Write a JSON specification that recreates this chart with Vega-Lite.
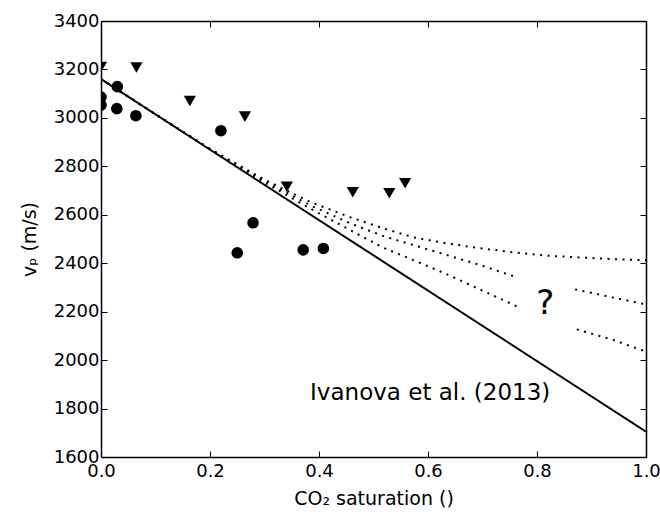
{
  "$schema": "https://vega.github.io/schema/vega-lite/v6.json",
  "width": 545,
  "height": 436,
  "autosize": "none",
  "padding": {"left": 101, "top": 21, "right": 14, "bottom": 58},
  "background": "white",
  "config": {
    "font": "DejaVu Sans",
    "view": {"stroke": null},
    "axis": {
      "domainColor": "black",
      "domainWidth": 1.5,
      "tickColor": "black",
      "tickWidth": 1,
      "tickSize": -6,
      "labelFlush": false,
      "labelOverlap": false,
      "labelColor": "black",
      "labelFont": "DejaVu Sans",
      "labelFontSize": 18,
      "titleFont": "DejaVu Sans",
      "titleFontSize": 19,
      "titleFontWeight": "normal",
      "titleColor": "black",
      "grid": false
    }
  },
  "datasets": {
    "lines": [
      {"series": "model", "x": 0.0, "v": 3160},
      {"series": "model", "x": 1.0, "v": 1705}
    ],
    "dotted": [
      {"series": "top", "x": 0.0, "v": 3160},
      {"series": "top", "x": 0.1, "v": 3015},
      {"series": "top", "x": 0.2, "v": 2872},
      {"series": "top", "x": 0.3, "v": 2745},
      {"series": "top", "x": 0.383, "v": 2654},
      {"series": "top", "x": 0.457, "v": 2590},
      {"series": "top", "x": 0.518, "v": 2544},
      {"series": "top", "x": 0.573, "v": 2507},
      {"series": "top", "x": 0.634, "v": 2482},
      {"series": "top", "x": 0.695, "v": 2462},
      {"series": "top", "x": 0.757, "v": 2445},
      {"series": "top", "x": 0.818, "v": 2431},
      {"series": "top", "x": 0.879, "v": 2424},
      {"series": "top", "x": 0.94, "v": 2417},
      {"series": "top", "x": 1.0, "v": 2412},
      {"series": "mid_a", "x": 0.0, "v": 3160},
      {"series": "mid_a", "x": 0.1, "v": 3015},
      {"series": "mid_a", "x": 0.2, "v": 2871},
      {"series": "mid_a", "x": 0.3, "v": 2740},
      {"series": "mid_a", "x": 0.383, "v": 2640},
      {"series": "mid_a", "x": 0.457, "v": 2565},
      {"series": "mid_a", "x": 0.518, "v": 2512},
      {"series": "mid_a", "x": 0.573, "v": 2475},
      {"series": "mid_a", "x": 0.634, "v": 2434},
      {"series": "mid_a", "x": 0.695, "v": 2393},
      {"series": "mid_a", "x": 0.76, "v": 2344},
      {"series": "mid_b", "x": 0.87, "v": 2292},
      {"series": "mid_b", "x": 0.94, "v": 2258},
      {"series": "mid_b", "x": 1.0, "v": 2230},
      {"series": "bot_a", "x": 0.0, "v": 3160},
      {"series": "bot_a", "x": 0.1, "v": 3015},
      {"series": "bot_a", "x": 0.2, "v": 2870},
      {"series": "bot_a", "x": 0.3, "v": 2733},
      {"series": "bot_a", "x": 0.383, "v": 2627},
      {"series": "bot_a", "x": 0.457, "v": 2537},
      {"series": "bot_a", "x": 0.518, "v": 2464},
      {"series": "bot_a", "x": 0.573, "v": 2413},
      {"series": "bot_a", "x": 0.634, "v": 2355},
      {"series": "bot_a", "x": 0.695, "v": 2292},
      {"series": "bot_a", "x": 0.769, "v": 2216},
      {"series": "bot_b", "x": 0.873, "v": 2127},
      {"series": "bot_b", "x": 0.94, "v": 2083},
      {"series": "bot_b", "x": 1.0, "v": 2035}
    ],
    "points": [
      {"type": "circle", "x": 0.0, "v": 3086},
      {"type": "circle", "x": 0.0, "v": 3053},
      {"type": "circle", "x": 0.03, "v": 3129},
      {"type": "circle", "x": 0.029, "v": 3038},
      {"type": "circle", "x": 0.064, "v": 3009},
      {"type": "circle", "x": 0.22, "v": 2947},
      {"type": "circle", "x": 0.25, "v": 2443},
      {"type": "circle", "x": 0.279, "v": 2567},
      {"type": "circle", "x": 0.371, "v": 2455},
      {"type": "circle", "x": 0.408, "v": 2461},
      {"type": "triangle-down", "x": 0.0, "v": 3210},
      {"type": "triangle-down", "x": 0.065, "v": 3208},
      {"type": "triangle-down", "x": 0.163, "v": 3070},
      {"type": "triangle-down", "x": 0.264, "v": 3005},
      {"type": "triangle-down", "x": 0.341, "v": 2716},
      {"type": "triangle-down", "x": 0.462, "v": 2693},
      {"type": "triangle-down", "x": 0.529, "v": 2689},
      {"type": "triangle-down", "x": 0.558, "v": 2730}
    ],
    "labels": [
      {"label": "Ivanova et al. (2013)", "x": 0.604, "v": 1835, "size": 23},
      {"label": "?", "x": 0.815, "v": 2190, "size": 34}
    ]
  },
  "resolve": {"axis": {"x": "independent", "y": "independent"}},
  "layer": [
    {
      "data": {"name": "lines"},
      "mark": {"type": "line", "color": "black", "strokeWidth": 2, "clip": true},
      "encoding": {
        "x": {"field": "x", "type": "quantitative", "scale": {"domain": [0, 1], "nice": false, "zero": false},
          "axis": {"orient": "bottom", "values": [0, 0.2, 0.4, 0.6, 0.8, 1.0], "format": ".1f", "title": "CO₂ saturation ()", "labelPadding": 11, "titlePadding": 9}},
        "y": {"field": "v", "type": "quantitative", "scale": {"domain": [1600, 3400], "nice": false, "zero": false},
          "axis": {"orient": "left", "values": [1600, 1800, 2000, 2200, 2400, 2600, 2800, 3000, 3200, 3400], "format": "d", "title": "vₚ (m/s)", "labelPadding": 8, "titlePadding": 14}},
        "detail": {"field": "series"}
      }
    },
    {
      "data": {"name": "dotted"},
      "mark": {"type": "line", "color": "black", "strokeWidth": 2, "strokeDash": [2, 5.5], "clip": true},
      "encoding": {
        "x": {"field": "x", "type": "quantitative", "scale": {"domain": [0, 1], "nice": false, "zero": false},
          "axis": {"orient": "top", "values": [0, 0.2, 0.4, 0.6, 0.8, 1.0], "labels": false, "title": null}},
        "y": {"field": "v", "type": "quantitative", "scale": {"domain": [1600, 3400], "nice": false, "zero": false},
          "axis": {"orient": "right", "values": [1600, 1800, 2000, 2200, 2400, 2600, 2800, 3000, 3200, 3400], "labels": false, "title": null}},
        "detail": {"field": "series"}
      }
    },
    {
      "data": {"name": "points"},
      "mark": {"type": "point", "filled": true, "color": "black", "opacity": 1, "clip": true},
      "encoding": {
        "x": {"field": "x", "type": "quantitative", "scale": {"domain": [0, 1], "nice": false, "zero": false}, "axis": null},
        "y": {"field": "v", "type": "quantitative", "scale": {"domain": [1600, 3400], "nice": false, "zero": false}, "axis": null},
        "shape": {"field": "type", "type": "nominal", "scale": {"domain": ["circle", "triangle-down"], "range": ["circle", "triangle-down"]}, "legend": null},
        "size": {"field": "type", "type": "nominal", "scale": {"domain": ["circle", "triangle-down"], "range": [135, 150]}, "legend": null}
      }
    },
    {
      "data": {"name": "labels"},
      "mark": {"type": "text", "color": "black", "font": "DejaVu Sans", "align": "center", "baseline": "alphabetic"},
      "encoding": {
        "x": {"field": "x", "type": "quantitative", "scale": {"domain": [0, 1], "nice": false, "zero": false}, "axis": null},
        "y": {"field": "v", "type": "quantitative", "scale": {"domain": [1600, 3400], "nice": false, "zero": false}, "axis": null},
        "text": {"field": "label"},
        "size": {"field": "size", "type": "quantitative", "scale": null, "legend": null}
      }
    }
  ]
}
